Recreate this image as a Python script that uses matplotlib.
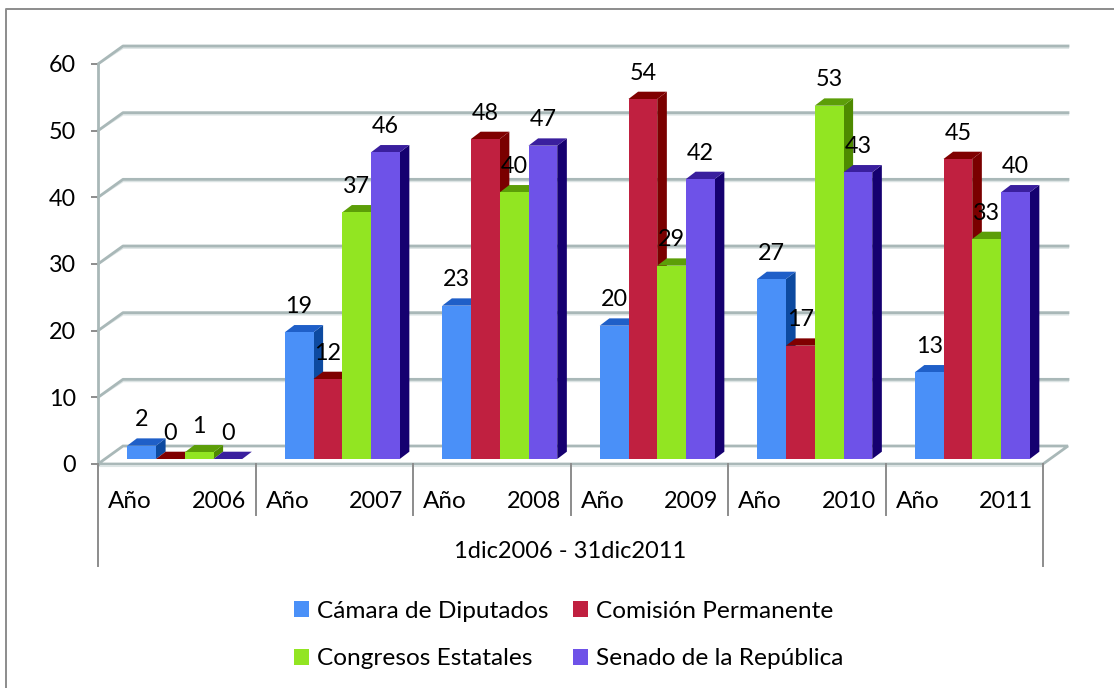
import matplotlib
matplotlib.use("Agg")
import matplotlib.pyplot as plt
from matplotlib.lines import Line2D
from matplotlib.patches import Polygon, Rectangle
from matplotlib.transforms import Affine2D

years = ["2006", "2007", "2008", "2009", "2010", "2011"]
year_word = "Año"
period = "1dic2006 - 31dic2011"
yticks = [0, 10, 20, 30, 40, 50, 60]

camara = [2, 19, 23, 20, 27, 13]
comision = [0, 12, 48, 54, 17, 45]
congresos = [1, 37, 40, 29, 53, 33]
senado = [0, 46, 47, 42, 43, 40]

names = ["Cámara de Diputados", "Comisión Permanente", "Congresos Estatales", "Senado de la República"]
series = [camara, comision, congresos, senado]
front_c = ["#4A90F8", "#C02040", "#92E522", "#6E52E8"]
top_c = ["#1F5FC8", "#800000", "#5C9E08", "#3A1F9E"]
side_c = ["#0D4AA0", "#7A0000", "#4E8A00", "#150070"]

W, H = 1114, 688
plt.rcParams["font.family"] = ["Lato", "DejaVu Sans"]
FS_NUM = 16.8
FS_WORD = 17.5
FS_LEG = 17.6
fig = plt.figure(figsize=(W / 100, H / 100), dpi=100, facecolor="white")
border = "#8C8C8C"
fig.add_artist(Line2D([5.5 / W, 5.5 / W, 1], [0, 1 - 8.5 / H, 1 - 8.5 / H], color=border, lw=1.4,
                      transform=fig.transFigure))
ax = fig.add_axes([98 / W, 1 - 464 / H, 945 / W, 400 / H])
ax.set_xlim(0, 6)
ax.set_ylim(0, 60)
ax.patch.set_visible(False)
for s in ax.spines.values():
    s.set_visible(False)

PX = 945 / 6          # pixels per category
PY = 400 / 60         # pixels per unit
wall_dx, wall_dy = 25 / PX, 18 / PY
grid = "#A9B8B8"
shadow = "#DCE4E4"

# wall gridlines and their diagonal returns to the front plane
for v in yticks:
    if v == 0:
        continue
    for off, col, lw in [(-1.8 / PY, shadow, 1.6), (0, grid, 2.0)]:
        ax.plot([0, wall_dx, 6 + wall_dx], [v, v + wall_dy + off, v + wall_dy + off],
                color=col, lw=lw, clip_on=False, zorder=1, solid_joinstyle="round")
# floor
ax.add_patch(Polygon([(0, 0), (wall_dx, wall_dy), (6 + wall_dx, wall_dy), (6, 0)], closed=True,
                     fc="white", ec=grid, lw=2.0, clip_on=False, zorder=1))
ax.plot([0, 6], [-1.5 / PY] * 2, color=shadow, lw=1.5, clip_on=False, zorder=1)

# bars
bw = 28.75 / PX
shift_x, shift_y = 8, 5
depth_x, depth_y = 9.6 / PX, 7.3 / PY
front_tr = ax.transData + Affine2D().translate(shift_x, shift_y)
for i, (vals, fc, tc, sc) in enumerate(zip(series, front_c, top_c, side_c)):
    xs = [g + 0.5 + (i - 1.5) * bw for g in range(6)]
    z = 3 + 2 * i
    ax.bar(xs, vals, width=bw, color=fc, transform=front_tr, zorder=z + 1, clip_on=False, lw=0)
    for x, v in zip(xs, vals):
        l, r = x - bw / 2, x + bw / 2
        ax.add_patch(Polygon([(r, 0), (r + depth_x, depth_y), (r + depth_x, v + depth_y), (r, v)],
                             closed=True, fc=sc, lw=0, transform=front_tr, clip_on=False, zorder=z))
        ax.add_patch(Polygon([(l, v), (l + depth_x, v + depth_y), (r + depth_x, v + depth_y), (r, v)],
                             closed=True, fc=tc, lw=0, transform=front_tr, clip_on=False, zorder=z))
        ax.annotate(str(v), (x, v), xycoords=front_tr, xytext=(0, 26 * 0.72),
                    textcoords="offset points", ha="center", va="center",
                    fontsize=FS_NUM, color="black", zorder=20, annotation_clip=False)

# axes: value ticks and multi-level category separators
axis_c = "#8C8C8C"
ax.set_yticks(yticks)
ax.tick_params(axis="y", length=5, width=1.4, color=axis_c, pad=11, labelsize=FS_NUM, labelcolor="black")
ax.set_xticks([])
xt = ax.get_xaxis_transform()
ax.plot([0, 0], [1, 0], color=grid, lw=2.0, transform=xt, clip_on=False, zorder=2)
ax.plot([0, 0], [0, -102 / 400], color=axis_c, lw=1.4, transform=xt, clip_on=False, zorder=2)
ax.plot([6, 6], [0, -102 / 400], color=axis_c, lw=1.4, transform=xt, clip_on=False, zorder=2)
for g in range(1, 6):
    ax.plot([g, g], [0, -51 / 400], color=axis_c, lw=1.4, transform=xt, clip_on=False, zorder=2)
for g, y in enumerate(years):
    ax.text(g + 10 / PX, -37 / 400, year_word, transform=xt, ha="left", va="center", fontsize=FS_WORD)
    ax.text(g + 148 / PX, -37 / 400, y, transform=xt, ha="right", va="center", fontsize=FS_NUM)
ax.text(3 + 0 / PX, -87.5 / 400, period, transform=xt, ha="center", va="center", fontsize=17)

# legend (column-first order in matplotlib)
handles = [Rectangle((0, 0), 1, 1, fc=c, lw=0) for c in front_c]
order = [0, 2, 1, 3]
fig.legend([handles[k] for k in order], [names[k] for k in order],
           ncol=2, frameon=False, fontsize=FS_LEG, loc="center left",
           bbox_to_anchor=(294 / W, 1 - 635 / H), borderpad=0, borderaxespad=0,
           handlelength=0.614, handleheight=0.614, handletextpad=0.32, columnspacing=1.0,
           labelspacing=1.09)

fig.savefig("out.png", dpi=100)
